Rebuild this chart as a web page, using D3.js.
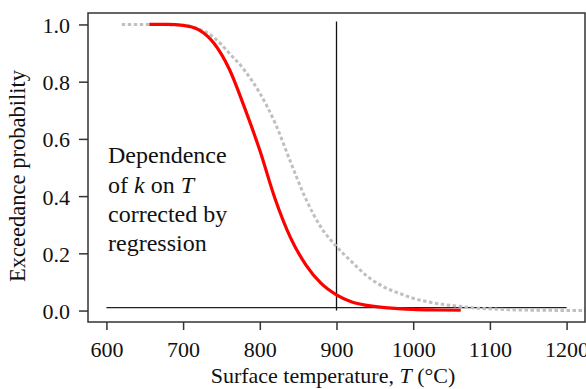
<!DOCTYPE html>
<html>
<head>
<meta charset="utf-8">
<script src="https://cdn.jsdelivr.net/npm/d3@7"></script>
<style>
  html, body { margin: 0; padding: 0; background: #fff; }
  svg { display: block; }
</style>
</head>
<body>
<svg id="chart" width="586" height="389"></svg>
<script>
// ---- data ----
const xTicks = [600, 700, 800, 900, 1000, 1100, 1200];
const yTicks = [0.0, 0.2, 0.4, 0.6, 0.8, 1.0];

// Corrected by regression (red)
const redT = [656, 680, 700, 720, 740, 760, 780, 800, 820, 840, 860, 880, 900, 920, 940, 960, 980, 1000, 1030, 1062];
const redP = [1.0, 1.0, 0.997, 0.982, 0.935, 0.845, 0.71, 0.56, 0.39, 0.255, 0.16, 0.095, 0.055, 0.03, 0.018, 0.011, 0.007, 0.004, 0.002, 0.001];

// Uncorrected (grey dotted)
const greyT = [620, 660, 700, 720, 740, 760, 780, 800, 820, 840, 860, 880, 900, 920, 940, 960, 980, 1000, 1020, 1040, 1060, 1080, 1100, 1140, 1224];
const greyP = [1.0, 1.0, 0.997, 0.985, 0.955, 0.9, 0.84, 0.76, 0.655, 0.52, 0.39, 0.29, 0.224, 0.17, 0.12, 0.085, 0.062, 0.043, 0.03, 0.021, 0.015, 0.009, 0.006, 0.002, 0.0];

// Reference lines
const hLineT = [600, 1200];
const hLineP = 0.01;
const vLineT = 900;
const vLineP = [0, 1.01];

const annotationLines = [
  [["Dependence", false]],
  [["of ", false], ["k", true], [" on ", false], ["T", true]],
  [["corrected by", false]],
  [["regression", false]]
];

// ---- layout ----
const FONT = '"Liberation Serif", "Times New Roman", Times, serif';
const svg = d3.select("#chart").attr("font-family", FONT);
const L = 88, R = 585, T = 13, B = 322;

const x = d3.scaleLinear().domain([576, 1224]).range([L, R]);
const y = d3.scaleLinear().domain([-0.04, 1.04]).range([B, T]);

svg.append("defs").append("clipPath").attr("id", "clip")
  .append("rect").attr("x", L).attr("y", T).attr("width", R - L).attr("height", B - T);

const plot = svg.append("g").attr("clip-path", "url(#clip)");

// reference lines
plot.append("line")
  .attr("x1", x(hLineT[0])).attr("x2", x(hLineT[1]))
  .attr("y1", y(hLineP)).attr("y2", y(hLineP))
  .attr("stroke", "#222").attr("stroke-width", 1.3);
plot.append("line")
  .attr("x1", x(vLineT)).attr("x2", x(vLineT))
  .attr("y1", y(vLineP[0])).attr("y2", y(vLineP[1]))
  .attr("stroke", "#111").attr("stroke-width", 1.3);

const line = d3.line().x(d => x(d[0])).y(d => y(d[1])).curve(d3.curveMonotoneX);

plot.append("path")
  .datum(greyT.map((t, i) => [t, greyP[i]]))
  .attr("d", line)
  .attr("fill", "none")
  .attr("stroke", "#c0c0c0")
  .attr("stroke-width", 3)
  .attr("stroke-dasharray", "3.5,2.5");

plot.append("path")
  .datum(redT.map((t, i) => [t, redP[i]]))
  .attr("d", line)
  .attr("fill", "none")
  .attr("stroke", "#ff0000")
  .attr("stroke-width", 3.2);

// box
svg.append("rect")
  .attr("x", L).attr("y", T).attr("width", R - L).attr("height", B - T)
  .attr("fill", "none").attr("stroke", "#333").attr("stroke-width", 1.5);

// axes
const xAxis = svg.append("g").attr("transform", `translate(0,${B})`)
  .call(d3.axisBottom(x).tickValues(xTicks).tickFormat(d3.format("d")).tickSize(8));
xAxis.attr("font-family", FONT);
xAxis.select(".domain").remove();
xAxis.selectAll(".tick line").attr("stroke", "#333").attr("stroke-width", 1.5);
xAxis.selectAll(".tick text")
  .attr("y", 35).attr("dy", 0)
  .style("font-family", FONT)
  .style("font-size", "22px").attr("fill", "#111");

const yAxis = svg.append("g").attr("transform", `translate(${L},0)`)
  .call(d3.axisLeft(y).tickValues(yTicks).tickFormat(d3.format(".1f")).tickSize(9));
yAxis.attr("font-family", FONT);
yAxis.select(".domain").remove();
yAxis.selectAll(".tick line").attr("stroke", "#333").attr("stroke-width", 1.5);
yAxis.selectAll(".tick text")
  .attr("x", -18).attr("dy", "0.36em")
  .style("font-family", FONT)
  .style("font-size", "22px").attr("fill", "#111");

// axis titles
const xt = svg.append("text")
  .attr("x", 333).attr("y", 383)
  .attr("text-anchor", "middle")
  .style("font-family", FONT)
  .style("font-size", "22px").attr("fill", "#111");
xt.append("tspan").text("Surface temperature, ");
xt.append("tspan").style("font-style", "italic").text("T");
xt.append("tspan").text(" (°C)");

svg.append("text")
  .attr("transform", "translate(25,176) rotate(-90)")
  .attr("text-anchor", "middle")
  .style("font-family", FONT)
  .style("font-size", "22.5px").attr("fill", "#111")
  .text("Exceedance probability");

// annotation
const baselines = [163, 192.5, 222, 251];
annotationLines.forEach((parts, i) => {
  const t = svg.append("text").attr("x", 108).attr("y", baselines[i])
    .style("font-family", FONT).style("font-size", "24px").attr("fill", "#111");
  parts.forEach(([s, it]) => {
    t.append("tspan").style("font-style", it ? "italic" : "normal").text(s);
  });
});
</script>
</body>
</html>
